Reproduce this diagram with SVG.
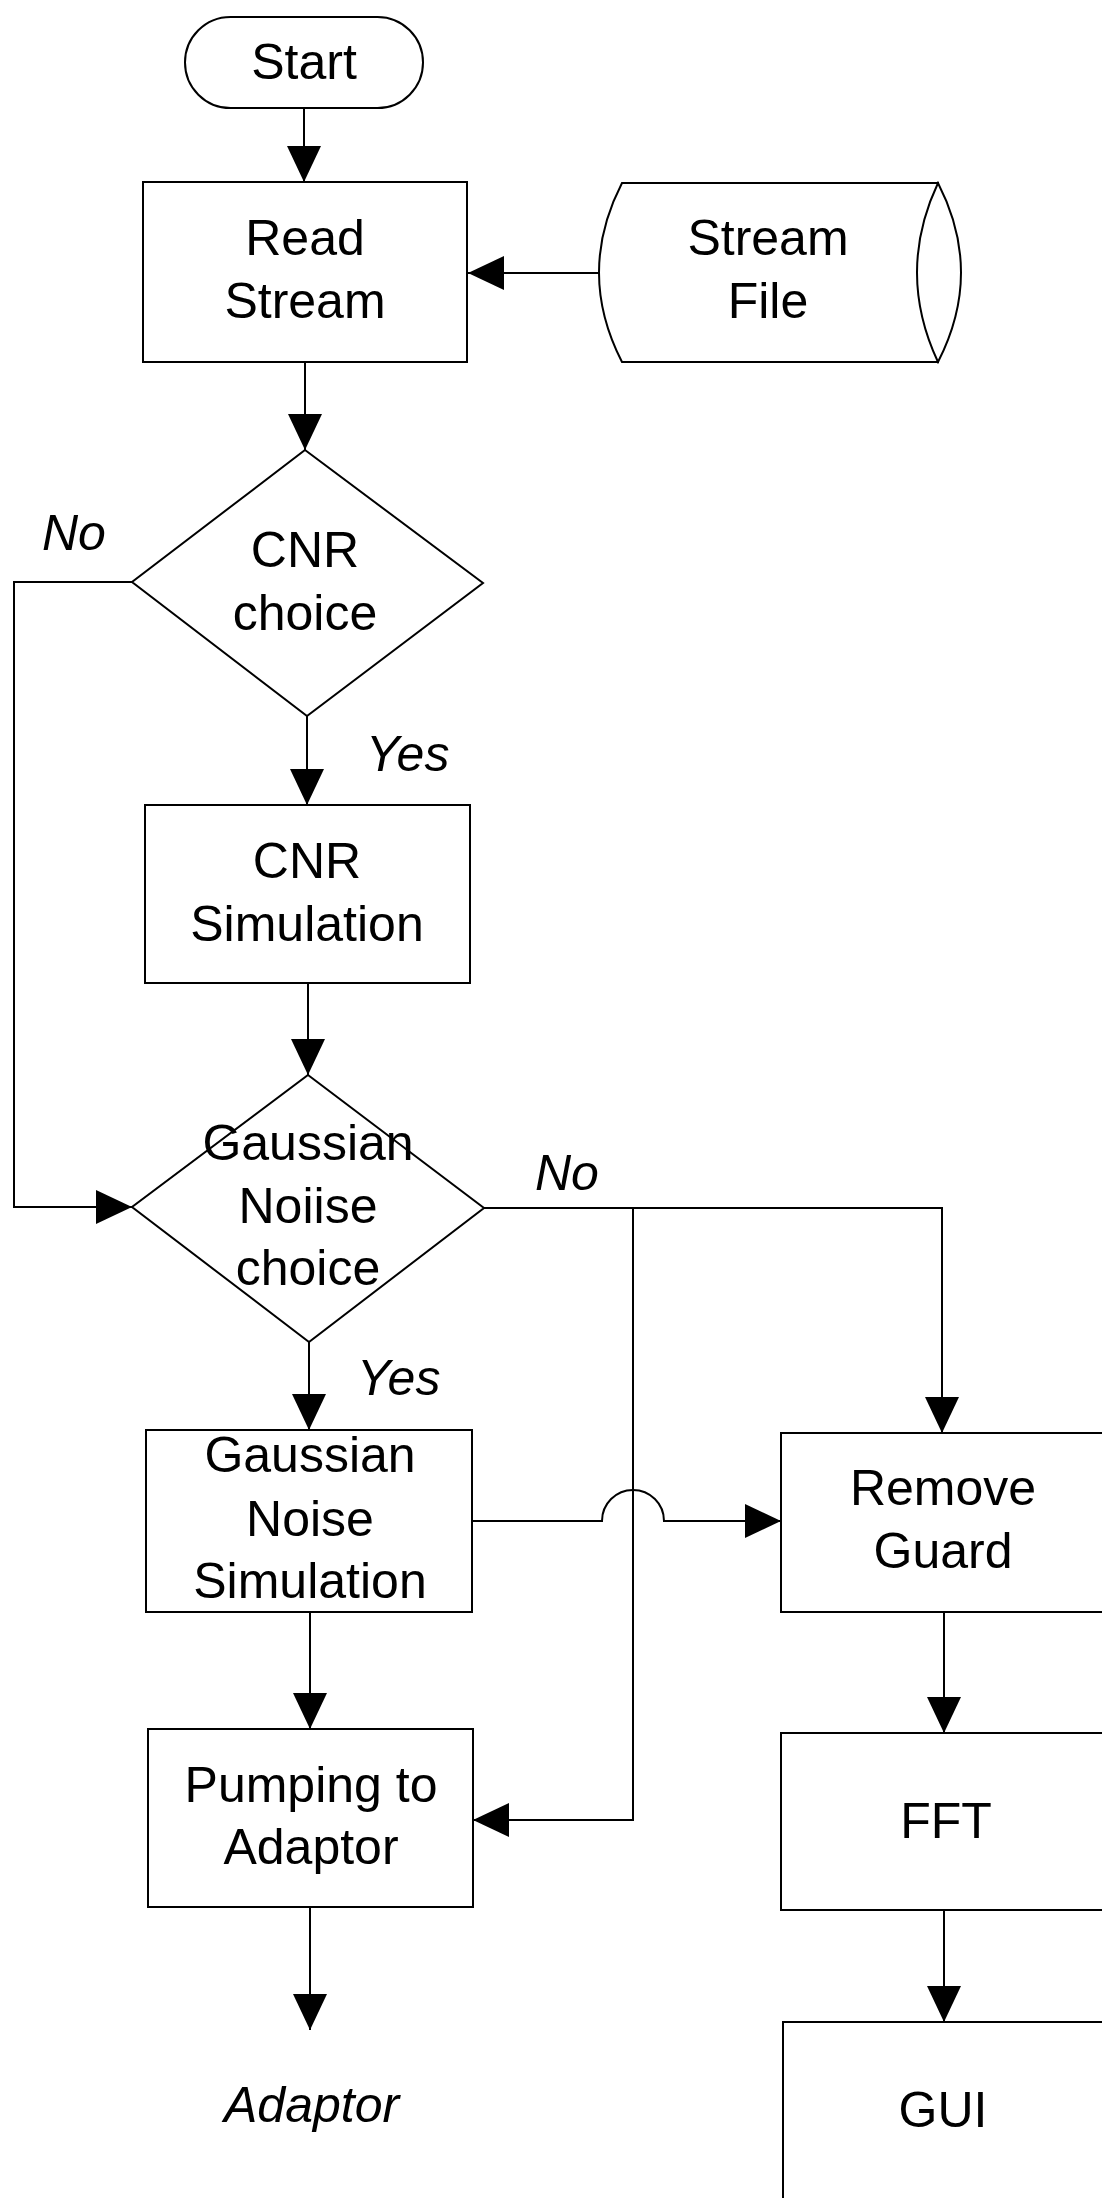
<svg xmlns="http://www.w3.org/2000/svg" width="1102" height="2198" viewBox="0 0 1102 2198">
<style>
.shape{fill:#fff;stroke:#000;stroke-width:2}
.t{font-family:"Liberation Sans",Arial,sans-serif;font-size:50px;fill:#000;text-anchor:middle}
.lbl{font-family:"Liberation Sans",Arial,sans-serif;font-size:50px;font-style:italic;fill:#000}
.conn{fill:none;stroke:#000;stroke-width:2}
</style>
<defs>
<marker id="arr" markerUnits="userSpaceOnUse" markerWidth="36" markerHeight="34" refX="36" refY="17" orient="auto">
<path d="M0,0 L36,17 L0,34 Z" fill="#000"/>
</marker>
</defs>
<rect width="1102" height="2198" fill="#fff"/>
<g id="connectors">
<path class="conn" d="M304,108 L304,182" marker-end="url(#arr)"/>
<path class="conn" d="M599,273 L468,273" marker-end="url(#arr)"/>
<path class="conn" d="M305,362 L305,450" marker-end="url(#arr)"/>
<path class="conn" d="M307,716 L307,805" marker-end="url(#arr)"/>
<path class="conn" d="M132,582 L14,582 L14,1207 L132,1207" marker-end="url(#arr)"/>
<path class="conn" d="M308,983 L308,1075" marker-end="url(#arr)"/>
<path class="conn" d="M309,1342 L309,1430" marker-end="url(#arr)"/>
<path class="conn" d="M484,1208 L942,1208 L942,1433" marker-end="url(#arr)"/>
<path class="conn" d="M633,1208 L633,1820 L473,1820" marker-end="url(#arr)"/>
<path class="conn" d="M472,1521 L602,1521 A31,31 0 0 1 664,1521 L781,1521" marker-end="url(#arr)"/>
<path class="conn" d="M310,1611 L310,1729" marker-end="url(#arr)"/>
<path class="conn" d="M310,1907 L310,2030" marker-end="url(#arr)"/>
<path class="conn" d="M944,1612 L944,1733" marker-end="url(#arr)"/>
<path class="conn" d="M944,1910 L944,2022" marker-end="url(#arr)"/>
</g>
<g id="labels">
<text class="lbl" x="42" y="550">No</text>
<text class="lbl" x="366" y="771">Yes</text>
<text class="lbl" x="535" y="1190">No</text>
<text class="lbl" x="357" y="1395">Yes</text>
<text class="lbl" x="224" y="2122">Adaptor</text>
</g>
<g id="start">
<rect class="shape" x="185" y="17" width="238" height="91" rx="45.5"/>
<text class="t" x="304" y="79">Start</text>
</g>
<g id="read-stream">
<rect class="shape" x="143" y="182" width="324" height="180"/>
<text class="t" x="305" y="255">Read</text>
<text class="t" x="305" y="318">Stream</text>
</g>
<g id="stream-file">
<path class="shape" d="M622,183 L938,183 L938,362 L622,362 Q576,272.5 622,183 Z"/>
<path class="shape" d="M938,183 Q896,272.5 938,362 Q984,272.5 938,183 Z"/>
<text class="t" x="768" y="255">Stream</text>
<text class="t" x="768" y="318">File</text>
</g>
<g id="cnr-choice">
<polygon class="shape" points="305,450 483,583 307,716 132,582"/>
<text class="t" x="305" y="567">CNR</text>
<text class="t" x="305" y="630">choice</text>
</g>
<g id="cnr-simulation">
<rect class="shape" x="145" y="805" width="325" height="178"/>
<text class="t" x="307" y="878">CNR</text>
<text class="t" x="307" y="941">Simulation</text>
</g>
<g id="gaussian-choice">
<polygon class="shape" points="308,1075 484,1208 309,1342 132,1207" style="fill:none"/>
<text class="t" x="308" y="1160">Gaussian</text>
<text class="t" x="308" y="1223">Noiise</text>
<text class="t" x="308" y="1285">choice</text>
</g>
<g id="gaussian-simulation">
<rect class="shape" x="146" y="1430" width="326" height="182"/>
<text class="t" x="310" y="1472">Gaussian</text>
<text class="t" x="310" y="1536">Noise</text>
<text class="t" x="310" y="1598">Simulation</text>
</g>
<g id="pumping">
<rect class="shape" x="148" y="1729" width="325" height="178"/>
<text class="t" x="311" y="1802">Pumping to</text>
<text class="t" x="311" y="1864">Adaptor</text>
</g>
<g id="remove-guard">
<rect class="shape" x="781" y="1433" width="330" height="179"/>
<text class="t" x="943" y="1505">Remove</text>
<text class="t" x="943" y="1568">Guard</text>
</g>
<g id="fft">
<rect class="shape" x="781" y="1733" width="330" height="177"/>
<text class="t" x="946" y="1838">FFT</text>
</g>
<g id="gui">
<rect class="shape" x="783" y="2022" width="330" height="200"/>
<text class="t" x="943" y="2127">GUI</text>
</g>
</svg>
